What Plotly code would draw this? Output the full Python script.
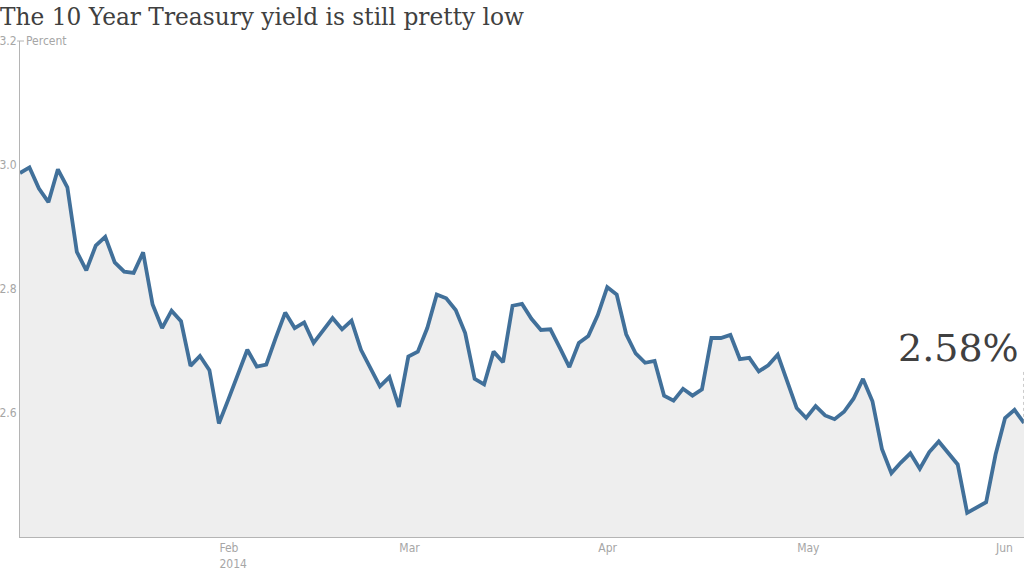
import pandas as pd
import plotly.graph_objects as go

# ---- data -------------------------------------------------------------
holidays = ["2014-01-20", "2014-02-17", "2014-04-18", "2014-05-26"]
dates = pd.bdate_range("2014-01-02", "2014-06-05", freq="C", holidays=holidays)

yields = [
    2.987, 2.996, 2.962, 2.940, 2.993, 2.964, 2.860, 2.830, 2.870, 2.884,
    2.843, 2.828, 2.826, 2.859, 2.775, 2.737, 2.765, 2.748, 2.676, 2.692,
    2.669,
    2.583, 2.622, 2.662, 2.702, 2.675, 2.678, 2.721, 2.762, 2.737, 2.746,
    2.713, 2.734, 2.753, 2.735, 2.749, 2.702, 2.673, 2.643, 2.658,
    2.610, 2.691, 2.699, 2.737, 2.791, 2.785, 2.766, 2.729, 2.655, 2.646,
    2.699, 2.682, 2.773, 2.776, 2.752, 2.734, 2.735, 2.705, 2.674, 2.713,
    2.724,
    2.758, 2.803, 2.791, 2.727, 2.696, 2.681, 2.684, 2.628, 2.620, 2.639,
    2.628, 2.638, 2.721, 2.721, 2.726, 2.687, 2.689, 2.667, 2.677, 2.694,
    2.651,
    2.608, 2.592, 2.611, 2.596, 2.590, 2.602, 2.623, 2.655, 2.619, 2.542,
    2.503, 2.520, 2.535, 2.510, 2.537, 2.554, 2.536, 2.517, 2.439, 2.447,
    2.456,
    2.533, 2.592, 2.605, 2.584,
]
assert len(dates) == len(yields)

tick_dates = ["2014-02-03", "2014-03-03", "2014-04-01", "2014-05-01", "2014-06-02"]
tick_text = ["Feb<br>2014", "Mar", "Apr", "May", "Jun"]
y_ticks = [2.6, 2.8, 3.0, 3.2]
y_ticktext = ["2.6", "2.8", "3.0", "3.2"]

title_text = "The 10 Year Treasury yield is still pretty low"
unit_text = "Percent"

# ---- styles -----------------------------------------------------------
LINE = "#41709a"
FILL = "#eeeeee"
AXIS = "#b4b4b4"
TICKC = "#a6a6a6"
TEXT = "#404040"
COND = "Liberation Sans Narrow, DejaVu Sans Condensed, Roboto, sans-serif"
SERIF = "DejaVu Serif, Liberation Serif, serif"

fig = go.Figure()
fig.add_trace(go.Scatter(
    x=dates, y=yields, mode="lines",
    line=dict(color=LINE, width=3.8),
    fill="tozeroy", fillcolor=FILL,
    hoverinfo="x+y",
))

last_label = f"{yields[-1]:.2f}%"
fig.add_annotation(
    x=dates[-1], y=yields[-1], xref="x", yref="y",
    text=last_label, showarrow=False,
    xanchor="right", yanchor="middle", xshift=-3, yshift=75,
    font=dict(family=SERIF, size=38, color=TEXT),
)
fig.add_shape(
    type="line", xref="x", yref="y",
    x0=dates[-1], x1=dates[-1], y0=yields[-1], y1=yields[-1] + 0.086,
    line=dict(color="#999999", width=1, dash="dot"),
)

fig.add_annotation(
    x=0, y=1, xref="paper", yref="paper", text=unit_text, showarrow=False,
    xanchor="left", yanchor="middle", xshift=4,
    font=dict(family=COND, size=12, color=TICKC),
)
fig.add_shape(
    type="line", xref="paper", yref="paper",
    xsizemode="pixel", xanchor=0, x0=-3, x1=4, y0=1, y1=1,
    line=dict(color=AXIS, width=1),
)

fig.update_layout(
    width=1024, height=576,
    margin=dict(l=20, r=0, t=41, b=39),
    paper_bgcolor="white", plot_bgcolor="white",
    showlegend=False,
    title=dict(
        text=title_text, x=0, xref="container", xanchor="left",
        y=1 - 17 / 576, yanchor="middle", yref="container",
        font=dict(family=SERIF, size=23.3, color=TEXT),
    ),
)
fig.update_xaxes(
    type="date",
    range=[dates[0], dates[-1]],
    rangebreaks=[dict(bounds=["sat", "mon"]), dict(values=holidays)],
    tickvals=tick_dates, ticktext=tick_text,
    ticklabelposition="outside right",
    showgrid=False, zeroline=False,
    showline=True, linecolor=AXIS, linewidth=1,
    ticks="", tickfont=dict(family=COND, size=12, color=TICKC),
)
fig.update_yaxes(
    range=[2.4, 3.2], tickvals=y_ticks, ticktext=y_ticktext,
    showgrid=False, zeroline=False,
    showline=True, linecolor=AXIS, linewidth=1,
    ticks="", tickfont=dict(family=COND, size=12, color=TICKC),
)

fig.write_html("out.html")
